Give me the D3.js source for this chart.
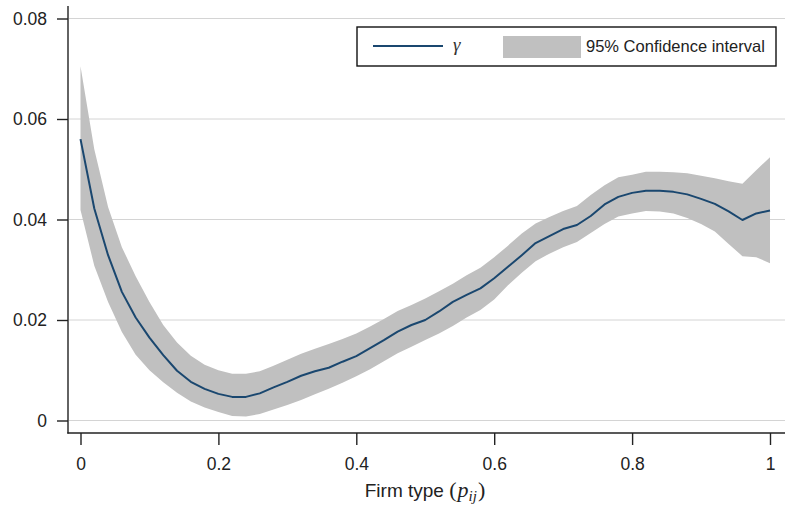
<!DOCTYPE html>
<html>
<head>
<meta charset="utf-8">
<script src="https://cdn.jsdelivr.net/npm/d3@7"></script>
<style>
  html, body { margin: 0; padding: 0; background: #fff; }
  svg { display: block; }
</style>
</head>
<body>
<svg id="chart" width="785" height="521"></svg>
<script>
// ---- data ----
const firmType = [0.00,0.02,0.04,0.06,0.08,0.10,0.12,0.14,0.16,0.18,0.20,0.22,0.24,0.26,0.28,0.30,0.32,0.34,0.36,0.38,0.40,0.42,0.44,0.46,0.48,0.50,0.52,0.54,0.56,0.58,0.60,0.62,0.64,0.66,0.68,0.70,0.72,0.74,0.76,0.78,0.80,0.82,0.84,0.86,0.88,0.90,0.92,0.94,0.96,0.98,1.00];
const gamma = [0.0560,0.0422,0.0329,0.0256,0.0205,0.0165,0.0130,0.0099,0.0077,0.0063,0.0053,0.0047,0.0047,0.0054,0.0066,0.0077,0.0089,0.0098,0.0105,0.0117,0.0128,0.0144,0.0160,0.0177,0.0190,0.0200,0.0217,0.0236,0.0250,0.0263,0.0283,0.0306,0.0329,0.0353,0.0367,0.0381,0.0389,0.0407,0.0430,0.0445,0.0453,0.0457,0.0457,0.0455,0.0450,0.0441,0.0431,0.0416,0.0399,0.0412,0.0418];
const ciUpper = [0.0705,0.0540,0.0425,0.0345,0.0287,0.0236,0.0190,0.0155,0.0129,0.0111,0.0100,0.0093,0.0093,0.0098,0.0109,0.0121,0.0133,0.0143,0.0152,0.0162,0.0173,0.0187,0.0202,0.0218,0.0230,0.0243,0.0257,0.0272,0.0289,0.0304,0.0325,0.0348,0.0372,0.0392,0.0405,0.0417,0.0427,0.0449,0.0468,0.0484,0.0489,0.0495,0.0495,0.0494,0.0492,0.0487,0.0482,0.0476,0.0471,0.0498,0.0524];
const ciLower = [0.0419,0.0308,0.0236,0.0176,0.0131,0.0100,0.0076,0.0055,0.0038,0.0026,0.0017,0.0009,0.0008,0.0013,0.0022,0.0031,0.0041,0.0052,0.0063,0.0075,0.0088,0.0102,0.0118,0.0134,0.0147,0.0160,0.0173,0.0188,0.0205,0.0220,0.0241,0.0269,0.0294,0.0317,0.0332,0.0345,0.0355,0.0373,0.0391,0.0406,0.0412,0.0417,0.0416,0.0412,0.0403,0.0391,0.0376,0.0351,0.0327,0.0325,0.0313];
const yTicks = [0, 0.02, 0.04, 0.06, 0.08];
const yTickLabels = ["0", "0.02", "0.04", "0.06", "0.08"];
const xTicks = [0, 0.2, 0.4, 0.6, 0.8, 1];
const xTickLabels = ["0", "0.2", "0.4", "0.6", "0.8", "1"];
const legendLabels = ["γ", "95% Confidence interval"];

// ---- layout ----
const W = 785, H = 521;
const axisX = 68, axisY = 433;
const x = d3.scaleLinear().domain([0, 1]).range([80.5, 770]);
const y = d3.scaleLinear().domain([0, 0.08]).range([420.5, 18.5]);

const svg = d3.select("#chart");
const font = "'Liberation Sans', Arial, Helvetica, sans-serif";
const serif = "'Liberation Serif', 'DejaVu Serif', serif";
const lineColor = "#1a476f";
const bandColor = "#c0c0c0";

// gridlines
svg.append("g").selectAll("line").data(yTicks).join("line")
  .attr("x1", axisX + 1).attr("x2", W)
  .attr("y1", d => y(d)).attr("y2", d => y(d))
  .attr("stroke", "#d4d4d4").attr("stroke-width", 1);

const pts = firmType.map((p, i) => ({p, g: gamma[i], lo: ciLower[i], hi: ciUpper[i]}));

// CI band
svg.append("path").datum(pts)
  .attr("fill", bandColor)
  .attr("d", d3.area().x(d => x(d.p)).y0(d => y(d.lo)).y1(d => y(d.hi)));

// gamma line
svg.append("path").datum(pts)
  .attr("fill", "none").attr("stroke", lineColor).attr("stroke-width", 2)
  .attr("stroke-linejoin", "round")
  .attr("d", d3.line().x(d => x(d.p)).y(d => y(d.g)));

// y axis
const yAxis = d3.axisLeft(y).tickValues(yTicks).tickSize(11).tickPadding(10)
  .tickFormat((d, i) => yTickLabels[i]);
const gy = svg.append("g").attr("transform", `translate(${axisX},0)`).call(yAxis);
gy.select(".domain").remove();
gy.append("line").attr("x1", 0).attr("x2", 0).attr("y1", 6).attr("y2", axisY + 0.5)
  .attr("stroke", "#222").attr("stroke-width", 1.4);
gy.selectAll(".tick line").attr("stroke", "#222").attr("stroke-width", 1.4);
gy.selectAll(".tick text").attr("font-family", font).attr("font-size", 17.5).attr("fill", "#222");

// x axis
const xAxis = d3.axisBottom(x).tickValues(xTicks).tickSize(12).tickPadding(13)
  .tickFormat((d, i) => xTickLabels[i]);
const gx = svg.append("g").attr("transform", `translate(0,${axisY})`).call(xAxis);
gx.select(".domain").remove();
gx.append("line").attr("x1", axisX - 0.7).attr("x2", W).attr("y1", 0).attr("y2", 0)
  .attr("stroke", "#222").attr("stroke-width", 1.4);
gx.selectAll(".tick line").attr("stroke", "#222").attr("stroke-width", 1.4);
gx.selectAll(".tick text").attr("font-family", font).attr("font-size", 17.5).attr("fill", "#222");

// x axis title
const title = svg.append("text").attr("x", 425).attr("y", 497)
  .attr("text-anchor", "middle").attr("font-family", font).attr("font-size", 19).attr("fill", "#222");
title.append("tspan").text("Firm type ");
title.append("tspan").attr("font-family", serif).attr("font-size", 22).text("(");
title.append("tspan").attr("font-family", serif).attr("font-style", "italic").attr("font-size", 22).attr("dx", 1).text("p");
title.append("tspan").attr("font-family", serif).attr("font-style", "italic").attr("font-size", 15).attr("dy", 4).text("ij");
title.append("tspan").attr("font-family", serif).attr("font-size", 22).attr("dy", -4).attr("dx", 1).text(")");

// legend
const lg = svg.append("g");
lg.append("rect").attr("x", 357).attr("y", 27).attr("width", 419).attr("height", 39)
  .attr("fill", "#fff").attr("stroke", "#111").attr("stroke-width", 1.4);
lg.append("line").attr("x1", 373).attr("x2", 443).attr("y1", 46).attr("y2", 46)
  .attr("stroke", lineColor).attr("stroke-width", 2);
lg.append("text").attr("x", 453).attr("y", 51)
  .attr("font-family", serif).attr("font-style", "italic").attr("font-size", 19)
  .attr("fill", "#333").text(legendLabels[0]);
lg.append("rect").attr("x", 503).attr("y", 36).attr("width", 78).attr("height", 22).attr("fill", bandColor);
lg.append("text").attr("x", 586).attr("y", 52)
  .attr("font-family", font).attr("font-size", 16.5).attr("fill", "#222").text(legendLabels[1]);
</script>
</body>
</html>
